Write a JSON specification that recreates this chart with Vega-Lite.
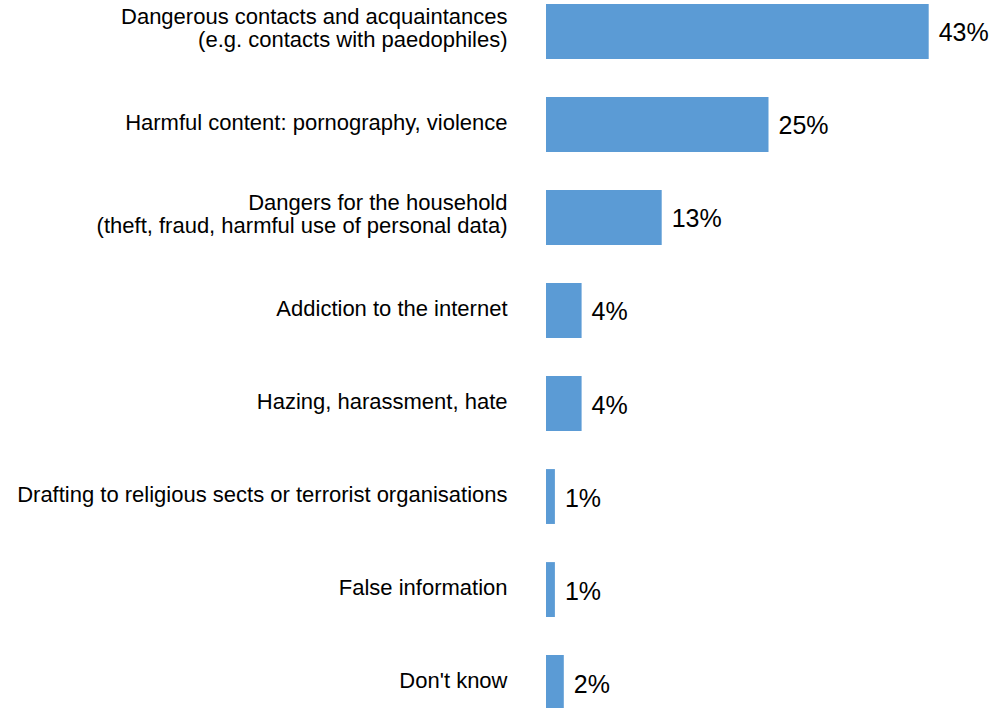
{
  "$schema": "https://vega.github.io/schema/vega-lite/v6.json",
  "autosize": "none",
  "width": 445,
  "height": 714,
  "padding": {"left": 546, "top": 0, "right": 1, "bottom": -6},
  "background": "white",
  "config": {"view": {"stroke": null}, "font": "Liberation Sans"},
  "data": {"values": [
    {"label": "Dangerous contacts and acquaintances|(e.g. contacts with paedophiles)", "value": 43, "text": "43%"},
    {"label": "Harmful content: pornography, violence", "value": 25, "text": "25%"},
    {"label": "Dangers for the household|(theft, fraud, harmful use of personal data)", "value": 13, "text": "13%"},
    {"label": "Addiction to the internet", "value": 4, "text": "4%"},
    {"label": "Hazing, harassment, hate", "value": 4, "text": "4%"},
    {"label": "Drafting to religious sects or terrorist organisations", "value": 1, "text": "1%"},
    {"label": "False information", "value": 1, "text": "1%"},
    {"label": "Don't know", "value": 2, "text": "2%"}
  ]},
  "encoding": {
    "y": {
      "field": "label", "type": "nominal", "sort": null,
      "scale": {"paddingInner": 0.41, "paddingOuter": 0.043},
      "axis": {
        "title": null, "ticks": false, "domain": false,
        "labelExpr": "split(datum.label, '|')",
        "labelFont": "Liberation Sans", "labelFontSize": 22, "labelColor": "#000000",
        "labelLineHeight": 23, "labelPadding": 39, "labelLimit": 600,
        "labelOffset": {"condition": {"test": "indexof(datum.value, '|') >= 0", "value": -14}, "value": -1.5}
      }
    },
    "x": {
      "field": "value", "type": "quantitative",
      "scale": {"domain": [0, 50]},
      "axis": null
    }
  },
  "layer": [
    {"mark": {"type": "bar", "color": "#5B9BD5"}},
    {"mark": {"type": "text", "align": "left", "baseline": "middle", "dx": 10, "dy": 2, "fontSize": 25, "font": "Liberation Sans", "color": "#000000"},
     "encoding": {"text": {"field": "text"}}}
  ]
}
